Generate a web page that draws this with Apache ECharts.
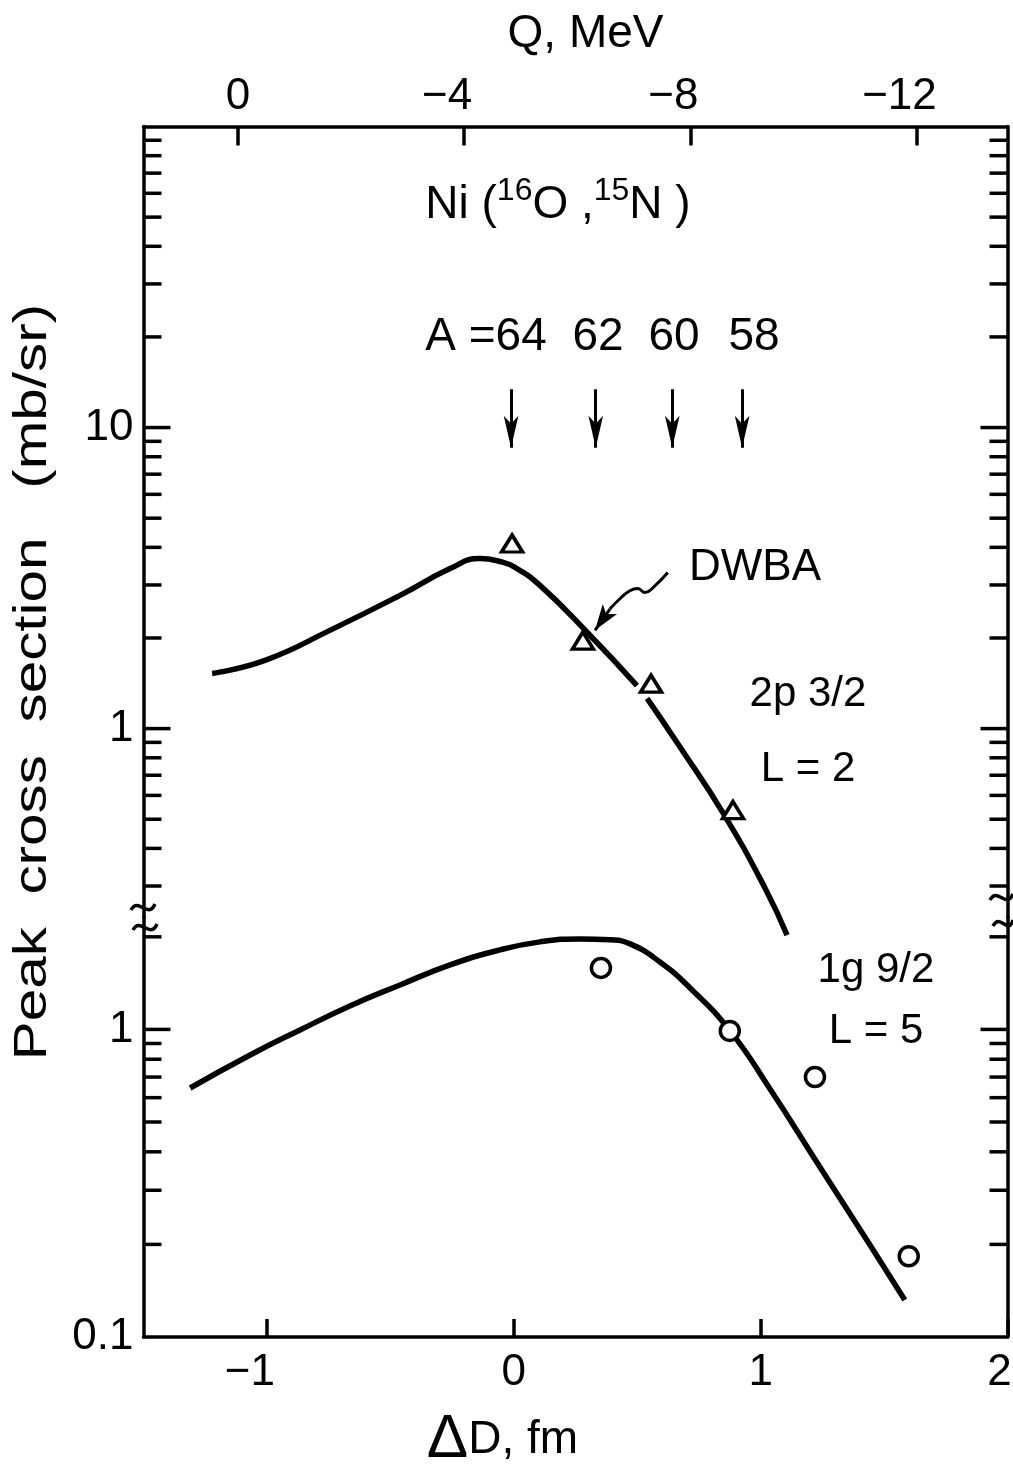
<!DOCTYPE html>
<html><head><meta charset="utf-8">
<script src="https://cdn.jsdelivr.net/npm/echarts@6/dist/echarts.min.js"></script>
<style>html,body{margin:0;padding:0;background:#fff}#c{width:1013px;height:1472px}</style>
</head><body><div id="c"></div>
<script>
// ---------- axes ----------
const X_MIN = -1.5, X_MAX = 2;                 // ΔD, fm
const xTickValues = [-1, 0, 1, 2];
const Q_MIN = -13.61, Q_MAX = 1.67;            // Q, MeV (top axis)
const qTickValues = [0, -4, -8, -12];
const UPPER_MIN = 0.2367, UPPER_MAX = 100;     // upper panel (2p3/2)
const LOWER_MIN = 0.1, LOWER_MAX = 2.32;       // lower panel (1g9/2)
const upperTickValues = [0.3,0.4,0.5,0.6,0.7,0.8,0.9,1,2,3,4,5,6,7,8,9,10,20,30,40,50,60,70,80,90];
const lowerTickValues = [0.2,0.3,0.4,0.5,0.6,0.7,0.8,0.9,1,2];
const upperLabelValues = [1, 10];
const lowerLabelValues = [0.1, 1];

// ---------- 2p 3/2, L = 2 ----------
const l2CurveX = [-1.222, -1.008, -0.745, -0.461, -0.258, -0.137, -0.056, 0.005, 0.106, 0.297, 0.499, null, 0.540, 0.674, 0.848, 1.018, 1.107];
const l2CurveY = [1.525, 1.685, 2.12, 2.77, 3.40, 3.67, 3.59, 3.43, 2.99, 2.09, 1.39, null, 1.26, 0.867, 0.524, 0.295, 0.206];
const l2DataX = [-0.007, 0.280, 0.556, 0.888];
const l2DataY = [4.12, 1.96, 1.41, 0.536];

// ---------- 1g 9/2, L = 5 ----------
const l5CurveX = [-1.311, -1.068, -0.866, -0.664, -0.461, -0.258, -0.056, 0.106, 0.268, 0.390, 0.471, 0.592, 0.714, 0.876, 1.038, 1.240, 1.443, 1.584];
const l5CurveY = [0.645, 0.826, 0.996, 1.192, 1.395, 1.621, 1.814, 1.926, 1.969, 1.955, 1.897, 1.657, 1.364, 0.989, 0.64, 0.357, 0.199, 0.132];
const l5DataX = [0.353, 0.875, 1.22, 1.60];
const l5DataY = [1.585, 0.989, 0.70, 0.183];

// ---------- isotope arrows A = 64 62 60 58 ----------
const isotopeA = [64, 62, 60, 58];
const isotopeDeltaD = [-0.011, 0.332, 0.642, 0.925];
const arrowTop = 13.4, arrowTip = 8.57;

// ---------- DWBA pointer ----------
const dwbaPtrX = [0.624, 0.564, 0.531, 0.503, 0.470, 0.430, 0.390];
const dwbaPtrY = [3.30, 2.94, 2.83, 2.92, 2.87, 2.70, 2.50];
const dwbaTip = [0.329, 2.12];

const FONT = '"Liberation Sans", Arial, sans-serif';
const BLACK = '#000';
const pairs = (xs, ys) => xs.map((x, i) => (x === null ? null : [x, ys[i]]));
const isMajor = v => Math.abs(Math.log10(v) - Math.round(Math.log10(v))) < 1e-9 ? 1 : 0;
const near = (list, v) => list.some(t => Math.abs(t - v) < 1e-6 * t);

function tickRender(params, api) {
  const v = api.value(1);
  const maj = api.value(2);
  const L = maj ? 27 : 18;
  const pl = api.coord([X_MIN, v]);
  const pr = api.coord([X_MAX, v]);
  const st = { stroke: BLACK, lineWidth: 3.5 };
  return { type: 'group', children: [
    { type: 'line', shape: { x1: pl[0], y1: pl[1], x2: pl[0] + L, y2: pl[1] }, style: st },
    { type: 'line', shape: { x1: pr[0] - L, y1: pr[1], x2: pr[0], y2: pr[1] }, style: st }
  ]};
}

const axisRich = {
  n: { fontSize: 44, fontFamily: FONT, color: BLACK, padding: [0, 34, 0, 0] },
  r: { fontSize: 44, fontFamily: FONT, color: BLACK, padding: [0, 16, 0, 0] }
};
const lineStyleAxis = { color: BLACK, width: 3.5 };
const markerStyle = { color: '#fff', borderColor: BLACK, borderWidth: 3.5, opacity: 1 };

const chart = echarts.init(document.getElementById('c'), null, { renderer: 'canvas' });
const option = {
  backgroundColor: '#fff',
  animation: false,
  color: [BLACK],
  grid: [
    { left: 143.5, right: 5.5, top: 126.5, height: 790.5, outerBoundsMode: 'none', containLabel: false },
    { left: 143.5, right: 5.5, top: 917, height: 420, outerBoundsMode: 'none', containLabel: false }
  ],
  xAxis: [
    { gridIndex: 0, type: 'value', min: X_MIN, max: X_MAX, show: false },
    { gridIndex: 0, type: 'value', position: 'top', inverse: true, min: Q_MIN, max: Q_MAX,
      axisLine: { show: true, onZero: false, lineStyle: lineStyleAxis },
      axisTick: { show: true, inside: true, length: 19, lineStyle: lineStyleAxis, customValues: qTickValues },
      axisLabel: { customValues: qTickValues, margin: 8, color: BLACK, fontSize: 44, fontFamily: FONT,
        formatter: v => v === 0 ? '0' : '{n|\u2212' + Math.abs(v) + '}', rich: axisRich },
      splitLine: { show: false },
      name: 'Q, MeV', nameLocation: 'middle', nameGap: 69,
      nameTextStyle: { color: BLACK, fontSize: 46, fontFamily: FONT, padding: [0, 0, 0, 20] } },
    { gridIndex: 1, type: 'value', position: 'bottom', min: X_MIN, max: X_MAX,
      axisLine: { show: true, onZero: false, lineStyle: lineStyleAxis },
      axisTick: { show: true, inside: true, length: 18, lineStyle: lineStyleAxis, customValues: xTickValues },
      axisLabel: { customValues: xTickValues, margin: 14, color: BLACK, fontSize: 44, fontFamily: FONT,
        formatter: v => v < 0 ? '{n|\u2212' + Math.abs(v) + '}' : (v === X_MAX ? '{r|' + v + '}' : String(v)),
        rich: axisRich },
      splitLine: { show: false },
      name: '{d|\u0394}D, fm', nameLocation: 'middle', nameGap: 72,
      nameTextStyle: { color: BLACK, fontSize: 46, fontFamily: FONT, padding: [0, 146, 0, 0],
        rich: { d: { fontSize: 62, fontFamily: FONT, color: BLACK } } } }
  ],
  yAxis: [
    { gridIndex: 0, type: 'log', logBase: 10, min: UPPER_MIN, max: UPPER_MAX, position: 'left',
      axisLine: { show: true, onZero: false, lineStyle: lineStyleAxis }, axisTick: { show: false },
      axisLabel: { margin: 10, color: BLACK, fontSize: 44, fontFamily: FONT,
        formatter: v => near(upperLabelValues, v) ? String(v) : '' },
      splitLine: { show: false } },
    { gridIndex: 0, type: 'log', logBase: 10, min: UPPER_MIN, max: UPPER_MAX, position: 'right',
      axisLine: { show: true, onZero: false, lineStyle: lineStyleAxis }, axisTick: { show: false },
      axisLabel: { show: false }, splitLine: { show: false } },
    { gridIndex: 1, type: 'log', logBase: 10, min: LOWER_MIN, max: LOWER_MAX, position: 'left',
      axisLine: { show: true, onZero: false, lineStyle: lineStyleAxis }, axisTick: { show: false },
      axisLabel: { margin: 10, color: BLACK, fontSize: 44, fontFamily: FONT,
        formatter: v => near(lowerLabelValues, v) ? String(v) : '' },
      splitLine: { show: false } },
    { gridIndex: 1, type: 'log', logBase: 10, min: LOWER_MIN, max: LOWER_MAX, position: 'right',
      axisLine: { show: true, onZero: false, lineStyle: lineStyleAxis }, axisTick: { show: false },
      axisLabel: { show: false }, splitLine: { show: false } }
  ],
  series: [
    { type: 'custom', xAxisIndex: 0, yAxisIndex: 0, silent: true, renderItem: tickRender,
      encode: { x: 0, y: 1 }, data: upperTickValues.map(v => [X_MIN, v, isMajor(v)]) },
    { type: 'custom', xAxisIndex: 2, yAxisIndex: 2, silent: true, renderItem: tickRender,
      encode: { x: 0, y: 1 }, data: lowerTickValues.map(v => [X_MIN, v, isMajor(v)]) },
    { type: 'line', name: 'DWBA 2p3/2', xAxisIndex: 0, yAxisIndex: 0, data: pairs(l2CurveX, l2CurveY),
      smooth: 0.5, showSymbol: false, symbol: 'none', clip: false, connectNulls: false,
      lineStyle: { color: BLACK, width: 5.5 } },
    { type: 'scatter', name: '2p3/2 data', xAxisIndex: 0, yAxisIndex: 0, data: pairs(l2DataX, l2DataY),
      symbol: 'triangle', symbolSize: [21, 17], z: 5, itemStyle: markerStyle },
    { type: 'line', name: 'DWBA pointer', xAxisIndex: 0, yAxisIndex: 0, data: pairs(dwbaPtrX, dwbaPtrY),
      smooth: 0.5, showSymbol: false, symbol: 'none', lineStyle: { color: BLACK, width: 3 },
      markLine: { silent: true, animation: false, symbol: ['none', 'arrow'], symbolSize: 20,
        label: { show: false }, lineStyle: { color: BLACK, width: 3, type: 'solid' },
        itemStyle: { color: BLACK },
        data: [[ { coord: [dwbaPtrX[dwbaPtrX.length - 1], dwbaPtrY[dwbaPtrY.length - 1]] },
                 { coord: dwbaTip, symbol: 'arrow', symbolSize: [13, 26] } ]] } },
    { type: 'line', name: 'isotopes', xAxisIndex: 0, yAxisIndex: 0, data: [],
      markLine: { silent: true, animation: false, symbol: ['none', 'arrow'], symbolSize: 20,
        label: { show: false }, lineStyle: { color: BLACK, width: 3, type: 'solid' },
        itemStyle: { color: BLACK },
        data: isotopeDeltaD.map((x, i) => [ { name: String(isotopeA[i]), coord: [x, arrowTop] },
                                             { coord: [x, arrowTip], symbol: 'arrow', symbolSize: [11, 32] } ]) } },
    { type: 'line', name: 'DWBA 1g9/2', xAxisIndex: 2, yAxisIndex: 2, data: pairs(l5CurveX, l5CurveY),
      smooth: 0.5, showSymbol: false, symbol: 'none', clip: false,
      lineStyle: { color: BLACK, width: 5.5 } },
    { type: 'scatter', name: '1g9/2 data', xAxisIndex: 2, yAxisIndex: 2, data: pairs(l5DataX, l5DataY),
      symbol: 'circle', symbolSize: 19, z: 5, itemStyle: markerStyle }
  ],
  graphic: [
    { type: 'text', x: 33, y: 682, rotation: Math.PI / 2, scaleX: 1.27,
      style: { text: 'Peak  cross  section   (mb/sr)', font: '46px ' + FONT, fill: BLACK, align: 'center', verticalAlign: 'middle' } },
    { type: 'text', x: 558, y: 205,
      style: { text: '{n|Ni (}{s|16}{n|O ,}{s|15}{n|N )}', align: 'center', verticalAlign: 'middle',
        rich: { n: { fontSize: 46, fontFamily: FONT, fill: BLACK, lineHeight: 60 },
                s: { fontSize: 32, fontFamily: FONT, fill: BLACK, lineHeight: 32, verticalAlign: 'top' } } } },
    { type: 'text', x: 486, y: 337, style: { text: 'A =' + isotopeA[0], font: '46px ' + FONT, fill: BLACK, align: 'center', verticalAlign: 'middle' } },
    { type: 'text', x: 598, y: 337, style: { text: String(isotopeA[1]), font: '46px ' + FONT, fill: BLACK, align: 'center', verticalAlign: 'middle' } },
    { type: 'text', x: 674, y: 337, style: { text: String(isotopeA[2]), font: '46px ' + FONT, fill: BLACK, align: 'center', verticalAlign: 'middle' } },
    { type: 'text', x: 754, y: 337, style: { text: String(isotopeA[3]), font: '46px ' + FONT, fill: BLACK, align: 'center', verticalAlign: 'middle' } },
    { type: 'text', x: 755, y: 568, style: { text: 'DWBA', font: '44px ' + FONT, fill: BLACK, align: 'center', verticalAlign: 'middle' } },
    { type: 'text', x: 808, y: 694, style: { text: '2p 3/2', font: '42px ' + FONT, fill: BLACK, align: 'center', verticalAlign: 'middle' } },
    { type: 'text', x: 808, y: 769, style: { text: 'L = 2', font: '42px ' + FONT, fill: BLACK, align: 'center', verticalAlign: 'middle' } },
    { type: 'text', x: 876, y: 970, style: { text: '1g 9/2', font: '42px ' + FONT, fill: BLACK, align: 'center', verticalAlign: 'middle' } },
    { type: 'text', x: 876, y: 1031, style: { text: 'L = 5', font: '42px ' + FONT, fill: BLACK, align: 'center', verticalAlign: 'middle' } },
    // axis-break marks
    { type: 'bezierCurve', shape: { x1: 131, y1: 910, cpx1: 138, cpy1: 896, cpx2: 148, cpy2: 920, x2: 155, y2: 904 }, style: { stroke: BLACK, lineWidth: 3.5, fill: null } },
    { type: 'bezierCurve', shape: { x1: 133, y1: 930, cpx1: 140, cpy1: 916, cpx2: 150, cpy2: 940, x2: 157, y2: 924 }, style: { stroke: BLACK, lineWidth: 3.5, fill: null } },
    { type: 'bezierCurve', shape: { x1: 990, y1: 900, cpx1: 997, cpy1: 886, cpx2: 1006, cpy2: 910, x2: 1013, y2: 894 }, style: { stroke: BLACK, lineWidth: 3.5, fill: null } },
    { type: 'bezierCurve', shape: { x1: 993, y1: 926, cpx1: 1000, cpy1: 912, cpx2: 1008, cpy2: 936, x2: 1013, y2: 920 }, style: { stroke: BLACK, lineWidth: 3.5, fill: null } }
  ]
};
chart.setOption(option);
</script>
</body></html>
